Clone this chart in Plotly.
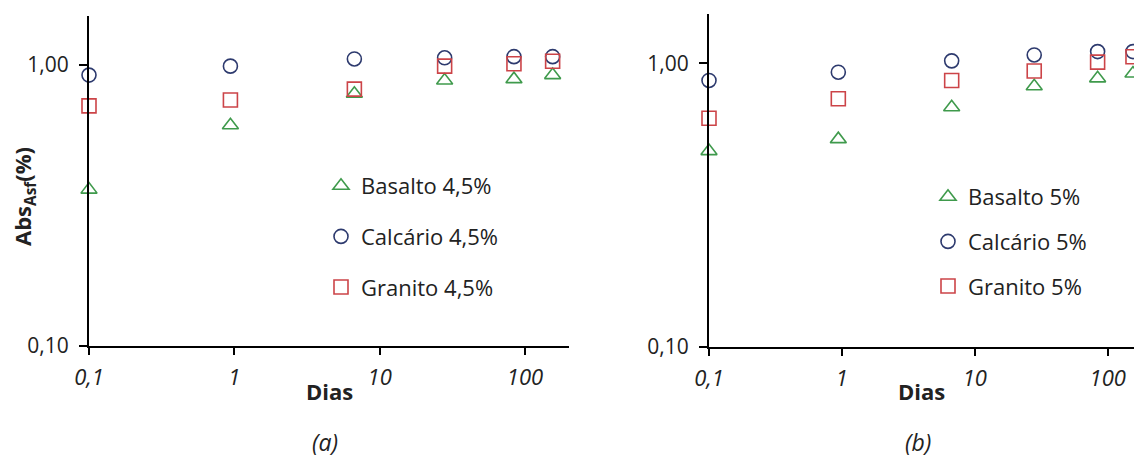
import plotly.graph_objects as go

# ---- data ----
dias = [0.1, 0.94, 6.7, 28, 84, 155]

basalto_45 = [0.36, 0.61, 0.79, 0.88, 0.89, 0.92]
calcario_45 = [0.92, 0.99, 1.05, 1.06, 1.07, 1.07]
granito_45 = [0.715, 0.75, 0.82, 0.99, 1.01, 1.03]

basalto_5 = [0.49, 0.54, 0.70, 0.83, 0.885, 0.92]
calcario_5 = [0.87, 0.93, 1.02, 1.07, 1.10, 1.10]
granito_5 = [0.64, 0.75, 0.87, 0.94, 1.01, 1.055]

x_tickvals = [0.1, 1, 10, 100]
x_ticktext = ["0,1", "1", "10", "100"]
y_tickvals = [0.1, 1]
y_ticktext = ["0,10", "1,00"]

GREEN = "#3f9a4c"
BLUE = "#2d3a6e"
RED = "#cc4448"
FONT = "Open Sans"
W, H = 1134, 461

fig = go.Figure()

series = [
    ("x", "y", "legend", [("Basalto 4,5%", basalto_45, "triangle-up-open", GREEN),
                          ("Calcário 4,5%", calcario_45, "circle-open", BLUE),
                          ("Granito 4,5%", granito_45, "square-open", RED)]),
    ("x2", "y2", "legend2", [("Basalto 5%", basalto_5, "triangle-up-open", GREEN),
                             ("Calcário 5%", calcario_5, "circle-open", BLUE),
                             ("Granito 5%", granito_5, "square-open", RED)]),
]
for xa, ya, lg, items in series:
    for i, (name, vals, sym, col) in enumerate(items):
        fig.add_trace(go.Scatter(
            x=dias, y=vals, mode="markers", name=name,
            xaxis=xa, yaxis=ya, legend=lg, legendgroup=f"{lg}{i}",
            marker=dict(symbol=sym, size=14, color=col, line=dict(width=1.6, color=col)),
            cliponaxis=False,
        ))

def px_x(p):
    return p / W

def px_y(p):
    return (H - p) / H

xa_common = dict(type="log", showgrid=False, zeroline=False, showline=True,
                 linecolor="black", linewidth=2, ticks="outside", ticklen=7,
                 tickcolor="black", tickwidth=1.5, tickvals=x_tickvals, ticktext=x_ticktext,
                 tickfont=dict(family=FONT, size=22, color="#222", style="italic"),
                 ticklabelstandoff=4, automargin=False)
ya_common = dict(type="log", showgrid=False, zeroline=False, showline=True,
                 linecolor="black", linewidth=2, ticks="outside", ticklen=8,
                 tickcolor="black", tickwidth=1.5, tickvals=y_tickvals, ticktext=y_ticktext,
                 tickfont=dict(family=FONT, size=21, color="#222"),
                 ticklabelstandoff=6, automargin=False)

fig.update_layout(
    width=W, height=H, margin=dict(l=0, r=0, t=0, b=0, autoexpand=False),
    paper_bgcolor="white", plot_bgcolor="white",
    xaxis=dict(domain=[px_x(89), px_x(569)], range=[-1, 2.303], anchor="y", **xa_common),
    yaxis=dict(domain=[px_y(346), px_y(16)], range=[-1, 0.174], anchor="x", **ya_common),
    xaxis2=dict(domain=[px_x(709), 1.0], range=[-1, 2.198], anchor="y2", **xa_common),
    yaxis2=dict(domain=[px_y(346.7), px_y(14)], range=[-1, 0.174], anchor="x2", **ya_common),
    legend=dict(x=px_x(321), y=px_y(165), xanchor="left", yanchor="top",
                bgcolor="rgba(0,0,0,0)", tracegroupgap=19,
                font=dict(family=FONT, size=22, color="#222")),
    legend2=dict(x=px_x(928), y=px_y(176), xanchor="left", yanchor="top",
                 bgcolor="rgba(0,0,0,0)", tracegroupgap=13,
                 font=dict(family=FONT, size=22, color="#222")),
    showlegend=True,
)

annots = [
    dict(text="<b>Dias</b>", xref="x domain", x=0.5, yref="paper", y=px_y(391),
         xanchor="center", yanchor="middle",
         showarrow=False, font=dict(family=FONT, size=22, color="#222")),
    dict(text="<b>Dias</b>", xref="x2 domain", x=0.5, yref="paper", y=px_y(391),
         xanchor="center", yanchor="middle",
         showarrow=False, font=dict(family=FONT, size=22, color="#222")),
    dict(text="<b>Abs<sub>Asf</sub>(%)</b>", xref="paper", x=px_x(24), yref="paper", y=px_y(197),
         xanchor="center", yanchor="middle",
         textangle=-90, showarrow=False, font=dict(family=FONT, size=22, color="#222")),
    dict(text="<i>(a)</i>", xref="paper", x=px_x(325), yref="paper", y=px_y(442),
         xanchor="center", yanchor="middle",
         showarrow=False, font=dict(family=FONT, size=23, color="#222")),
    dict(text="<i>(b)</i>", xref="paper", x=px_x(918), yref="paper", y=px_y(442),
         xanchor="center", yanchor="middle",
         showarrow=False, font=dict(family=FONT, size=23, color="#222")),
]
fig.update_layout(annotations=annots)

fig.write_html("out.html")
